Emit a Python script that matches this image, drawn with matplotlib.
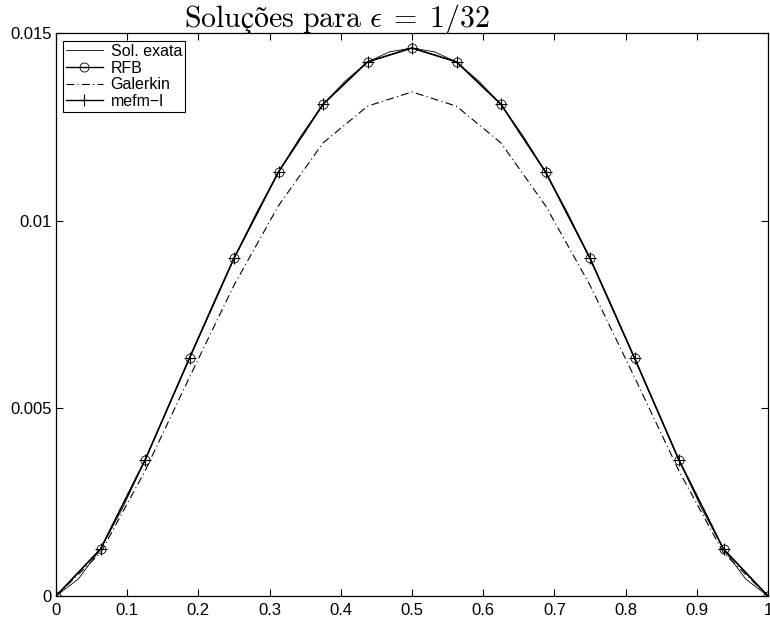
import matplotlib
matplotlib.use("Agg")
import matplotlib.pyplot as plt

# nodes of the coarse mesh (h = 1/16) and finer samples for the exact solution
x_nodes = [i / 16 for i in range(17)]
x_fine = [i / 32 for i in range(33)]

rfb = [0, 0.00125, 0.00362, 0.00634, 0.00900, 0.01130, 0.01310, 0.01423, 0.01460,
       0.01423, 0.01310, 0.01130, 0.00900, 0.00634, 0.00362, 0.00125, 0]
mefm = [0, 0.00125, 0.00362, 0.00634, 0.00900, 0.01130, 0.01310, 0.01423, 0.01460,
        0.01423, 0.01310, 0.01130, 0.00900, 0.00634, 0.00362, 0.00125, 0]
galerkin = [0, 0.00115, 0.00333, 0.00583, 0.00828, 0.01040, 0.01207, 0.01305, 0.01343,
            0.01305, 0.01207, 0.01040, 0.00828, 0.00583, 0.00333, 0.00115, 0]
exata = [0, 0.00045, 0.00125, 0.00235, 0.00362, 0.00498, 0.00634, 0.00770, 0.00900,
         0.01020, 0.01130, 0.01225, 0.01310, 0.01372, 0.01423, 0.01450, 0.01460,
         0.01450, 0.01423, 0.01372, 0.01310, 0.01225, 0.01130, 0.01020, 0.00900,
         0.00770, 0.00634, 0.00498, 0.00362, 0.00235, 0.00125, 0.00045, 0]

xticks = [0, 0.1, 0.2, 0.3, 0.4, 0.5, 0.6, 0.7, 0.8, 0.9, 1]
xticklabels = ["0", "0.1", "0.2", "0.3", "0.4", "0.5", "0.6", "0.7", "0.8", "0.9", "1"]
yticks = [0, 0.005, 0.01, 0.015]
yticklabels = ["0", "0.005", "0.01", "0.015"]

plt.rcParams['font.family'] = ['Liberation Sans', 'DejaVu Sans']
plt.rcParams['mathtext.fontset'] = 'cm'

fig = plt.figure(figsize=(7.7, 6.24), dpi=100)
ax = fig.add_axes([56 / 770, 28 / 624, 712 / 770, 563 / 624])

ax.plot(x_fine, exata, color='black', lw=0.6, label='Sol. exata')
ax.plot(x_nodes, rfb, color='black', lw=1.0, marker='o', ms=6.5, mfc='none',
        mew=0.6, label='RFB')
ax.plot(x_nodes, galerkin, color='black', lw=0.8, ls=(0, (7, 3, 1, 3)), label='Galerkin')
ax.plot(x_nodes, mefm, color='black', lw=1.0, marker='+', ms=8, mew=0.8, label='mefm\u2212l')

ax.set_xlim(0, 1)
ax.set_ylim(0, 0.015)
ax.set_xticks(xticks)
ax.set_xticklabels(xticklabels)
ax.set_yticks(yticks)
ax.set_yticklabels(yticklabels)
ax.tick_params(direction='in', length=5, width=0.8, labelsize=12, top=True, right=True)
ax.tick_params(axis='x', pad=5)
ax.tick_params(axis='y', pad=3)
for s in ax.spines.values():
    s.set_linewidth(0.9)

leg = ax.legend(loc='upper left', bbox_to_anchor=(0.0095, 0.986), fontsize=11.5,
                handlelength=2.3, handletextpad=0.5, borderpad=0.2, labelspacing=0.1,
                fancybox=False, framealpha=1, edgecolor='black', borderaxespad=0)
leg.get_frame().set_linewidth(0.8)

fig.text(337 / 770, 1 - 27 / 624, r'$\mathrm{Soluções\ para}\ \epsilon\;=\;1/32$',
         fontsize=21.5, ha='center', va='baseline')

fig.savefig('out.png', dpi=100)
